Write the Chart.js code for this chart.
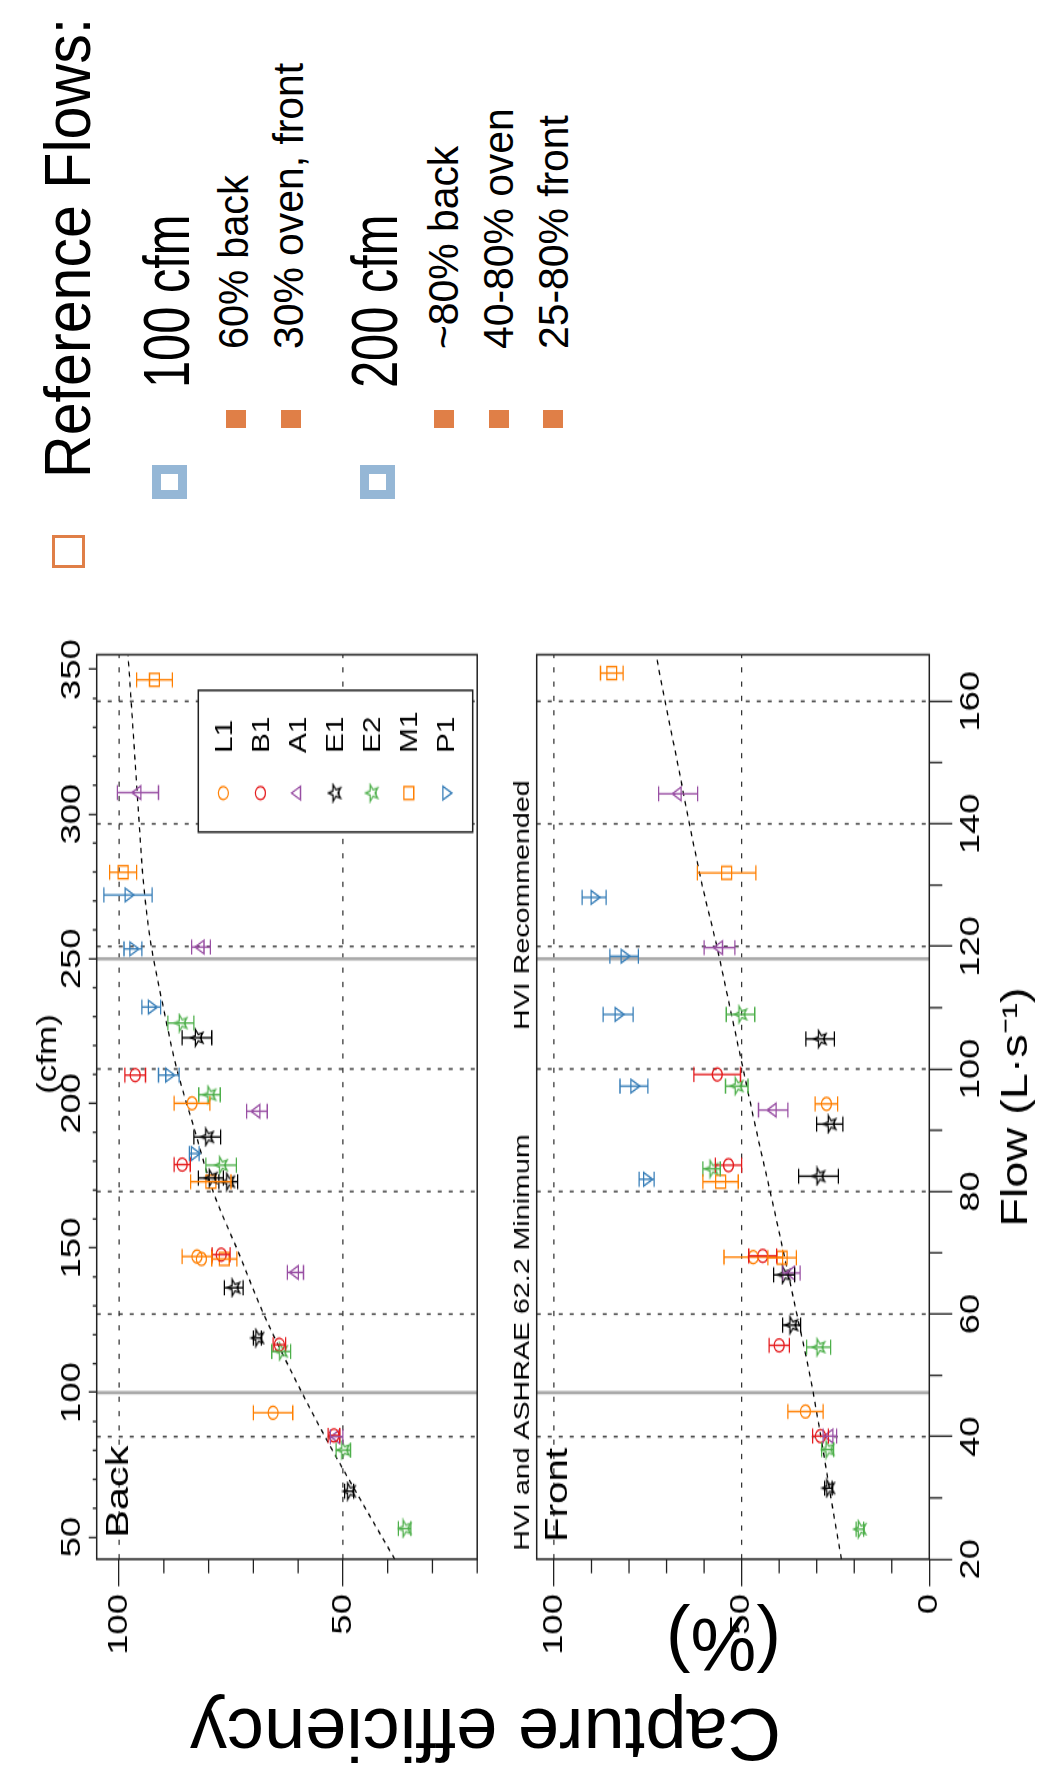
<!DOCTYPE html>
<html>
<head>
<meta charset="utf-8">
<script src="https://cdn.jsdelivr.net/npm/chart.js@4.4.0/dist/chart.umd.min.js"></script>
<style>
  html, body { margin: 0; padding: 0; background: #fff; }
  body { width: 1039px; height: 1766px; overflow: hidden; position: relative; }
  /* the figure is laid out upright, then turned a quarter turn like the original */
  #fig { position: absolute; left: 0; top: 0; width: 1766px; height: 1039px;
         transform-origin: 0 0; transform: translate(0px, 1766px) rotate(-90deg);
         font-family: "Liberation Sans", Arial, sans-serif; color: #000; }
  .panel { position: absolute; left: 0; }
  .panel canvas { display: block; }
  .txt { position: absolute; white-space: nowrap; line-height: 1; transform-origin: 0 0; }
  .small { font-size: 43px; transform: scaleX(0.95); left: 1417px; }
  .big { font-size: 65px; transform: scaleX(0.75); left: 1378px; }
  .sq { position: absolute; box-sizing: border-box; }
  .fill { background: #e07f47; width: 18px; height: 20px; left: 1338px; }
  .blue { width: 34px; height: 35px; border: 9px solid #95b7d6; left: 1267px; }
</style>
</head>
<body>
<div id="fig">
  <div class="panel" style="top:0;width:1130px;height:500px">
    <canvas id="back" width="869" height="500" style="width:1130px;height:500px"></canvas>
  </div>
  <div class="panel" style="top:500px;width:1130px;height:539px">
    <canvas id="front" width="869" height="539" style="width:1130px;height:539px"></canvas>
  </div>

  <div class="txt" style="left:-12.6px;top:781px;font-size:74px;line-height:90px;transform:rotate(-90deg)">Capture efficiency<br>(%)</div>

  <div class="sq" style="left:1198px;top:52px;width:33px;height:33px;border:3.5px solid #e07f47"></div>
  <div class="txt" style="left:1288px;top:35px;font-size:65px;transform:scaleX(0.91)">Reference Flows:</div>

  <div class="sq blue" style="top:152px"></div>
  <div class="txt big" style="top:134px">100 cfm</div>
  <div class="sq fill" style="top:226px"></div>
  <div class="txt small" style="top:211.6px;transform:scaleX(0.92)">60% back</div>
  <div class="sq fill" style="top:281px"></div>
  <div class="txt small" style="top:266.6px">30% oven, front</div>

  <div class="sq blue" style="top:360px"></div>
  <div class="txt big" style="top:342px">200 cfm</div>
  <div class="sq fill" style="top:434px"></div>
  <div class="txt small" style="top:421.6px">~80% back</div>
  <div class="sq fill" style="top:489px"></div>
  <div class="txt small" style="top:476.6px">40-80% oven</div>
  <div class="sq fill" style="top:543px"></div>
  <div class="txt small" style="top:531.6px">25-80% front</div>
</div>

<script>
// values
// flow in L/s, capture efficiency in %

const seriesNames = ['L1', 'B1', 'A1', 'E1', 'E2', 'M1', 'P1'];
const seriesColors = ['#ff7f00', '#e41a1c', '#984ea3', '#000000', '#4daf4a', '#ff7f00', '#377eb8'];

// each row: [flow, capture efficiency, +/- error]
const backL1 = [[69.4, 82.6, 3.3], [69.0, 81.6, 0], [43.9, 65.6, 4.4], [94.4, 83.7, 4.0]];
const backB1 = [[69.7, 77.2, 2.0], [55.0, 64.2, 1.4], [40.2, 52.0, 1.3], [99.0, 96.4, 2.3], [84.4, 85.9, 1.8]];
const backA1 = [[66.8, 60.6, 1.8], [40.0, 51.4, 1.4], [119.9, 81.7, 2.1], [93.1, 69.2, 2.3], [145.1, 95.8, 4.6]];
const backE1 = [[64.3, 74.4, 2.1], [56.1, 69.1, 0.9], [31.1, 48.6, 1.0], [105.1, 82.6, 3.3], [88.9, 80.3, 3.0], [82.2, 79.5, 2.8], [81.6, 75.6, 2.1]];
const backE2 = [[53.9, 63.8, 2.1], [37.8, 49.9, 1.6], [25.0, 36.2, 1.4], [107.5, 86.2, 2.9], [95.8, 79.8, 2.4], [84.3, 77.2, 3.4]];
const backM1 = [[69.0, 76.5, 2.8], [81.6, 79.5, 4.5], [163.5, 92.1, 4.0], [132.1, 99.1, 3.0]];
const backP1 = [[128.4, 98.0, 5.4], [119.6, 96.9, 2.0], [110.1, 92.8, 2.1], [99.0, 88.9, 2.3], [86.2, 83.2, 1.1]];

const frontL1 = [[69.3, 46.9, 7.8], [44.1, 33.0, 4.7], [94.3, 27.4, 3.0]];
const frontB1 = [[69.5, 44.4, 3.7], [54.9, 40.0, 2.7], [40.1, 29.0, 2.1], [99.1, 56.5, 6.2], [84.3, 53.5, 3.5]];
const frontA1 = [[66.7, 36.7, 2.3], [40.1, 26.5, 1.8], [119.8, 55.9, 4.1], [93.3, 41.6, 3.9], [144.9, 66.9, 5.2]];
const frontE1 = [[66.4, 38.7, 2.8], [58.2, 36.7, 2.4], [31.6, 26.9, 1.0], [104.9, 29.1, 3.8], [91.0, 26.5, 3.5], [82.5, 29.5, 5.3]];
const frontE2 = [[54.6, 29.5, 3.2], [37.9, 27.1, 1.6], [24.9, 18.5, 1.0], [108.9, 50.3, 3.8], [97.2, 51.3, 3.0], [83.7, 58.0, 2.3]];
const frontM1 = [[69.2, 39.2, 3.8], [81.6, 55.6, 4.7], [164.6, 84.6, 3.0], [132.0, 54.0, 7.8]];
const frontP1 = [[128.0, 89.3, 3.2], [118.4, 81.3, 3.8], [108.9, 82.9, 4.0], [97.2, 78.7, 3.7], [82.0, 75.3, 2.0]];

// dashed fitted curves
const fitFlow = [20, 30, 40, 50, 60, 70, 80, 90, 100, 110, 120, 130, 140, 150, 160, 167.6];
const backFit = [38.4, 46.3, 54.0, 61.1, 67.7, 73.3, 79.0, 83.1, 87.1, 90.1, 92.8, 94.5, 95.5, 96.4, 97.3, 98.0];
const frontFit = [23.4, 26.2, 28.9, 31.8, 35.3, 38.8, 42.4, 46.1, 49.6, 53.1, 56.6, 60.5, 63.9, 67.1, 70.4, 72.8];

// reference flows: 100 cfm and 250 cfm
const refFlows = [47.19, 117.98];

// axes
const flowRange = [20, 167.6];
const flowTicks = [20, 40, 60, 80, 100, 120, 140, 160];
const flowMinor = [30, 50, 70, 90, 110, 130, 150];
const cfmTicks = [50, 100, 150, 200, 250, 300, 350];
const cfmMinor = [60, 70, 80, 90, 110, 120, 130, 140, 160, 170, 180, 190, 210, 220, 230, 240, 260, 270, 280, 290, 310, 320, 330, 340];
const backEffRange = [20, 105];
const backEffTicks = [50, 100];
const backEffMinor = [20, 30, 40, 60, 70, 80, 90];
const frontEffRange = [0, 104.6];
const frontEffTicks = [0, 50, 100];
const frontEffMinor = [10, 20, 30, 40, 60, 70, 80, 90];
const effGrid = [50, 100];

const LPS_PER_CFM = 0.47195;
const FONT = '"Liberation Sans", Arial, sans-serif';
Chart.defaults.font.family = FONT;
Chart.defaults.color = '#000';

function starImage(color) {
    const c = document.createElement('canvas');
    c.width = 16; c.height = 16;
    const g = c.getContext('2d');
    g.strokeStyle = color;
    g.lineWidth = 1.3;
    g.beginPath();
    for (let i = 0; i < 10; i++) {
        const r = i % 2 ? 2.7 : 6.6;
        const a = -Math.PI / 2 + i * Math.PI / 5;
        const px = 8 + r * Math.cos(a), py = 8.5 + r * Math.sin(a);
        if (i) g.lineTo(px, py); else g.moveTo(px, py);
    }
    g.closePath();
    g.stroke();
    return c;
}

const markerStyle = {
    L1: { pointStyle: 'circle', pointRadius: 5 },
    B1: { pointStyle: 'circle', pointRadius: 5 },
    A1: { pointStyle: 'triangle', pointRadius: 6 },
    E1: { pointStyle: starImage('#000000'), pointRadius: 6 },
    E2: { pointStyle: starImage('#4daf4a'), pointRadius: 6 },
    M1: { pointStyle: 'rect', pointRadius: 7 },
    P1: { pointStyle: 'triangle', pointRadius: 6, pointRotation: 180 }
};

function buildSets(rows, fit) {
    const sets = seriesNames.map((name, i) => Object.assign({
        type: 'scatter',
        label: name,
        xAxisID: 'x',
        yAxisID: 'y',
        data: rows[i].map(r => ({ x: r[0], y: r[1] })),
        errs: rows[i].map(r => r[2]),
        borderColor: seriesColors[i],
        backgroundColor: 'rgba(0,0,0,0)',
        pointBorderWidth: 1.3,
        pointRotation: 0
    }, markerStyle[name]));
    // fit curve last so it sits under the points
    sets.push({
        type: 'line',
        label: 'fit',
        xAxisID: 'x',
        yAxisID: 'y',
        data: fitFlow.map((f, i) => ({ x: f, y: fit[i] })),
        borderColor: '#000',
        borderWidth: 1.3,
        borderDash: [4, 4],
        pointRadius: 0,
        cubicInterpolationMode: 'monotone',
        fill: false
    });
    return sets;
}

// dotted grid + grey reference lines
const gridLines = {
    id: 'gridLines',
    beforeDatasetsDraw(chart) {
        const { ctx, chartArea: a, scales: { x, y } } = chart;
        ctx.save();
        ctx.strokeStyle = '#333';
        ctx.lineWidth = 1.3;
        ctx.setLineDash([4, 7]);
        flowTicks.forEach(f => {
            const px = x.getPixelForValue(f);
            if (px <= a.left + 1) return;
            ctx.beginPath(); ctx.moveTo(px, a.top); ctx.lineTo(px, a.bottom); ctx.stroke();
        });
        effGrid.forEach(v => {
            const py = y.getPixelForValue(v);
            ctx.beginPath(); ctx.moveTo(a.left, py); ctx.lineTo(a.right, py); ctx.stroke();
        });
        ctx.setLineDash([]);
        ctx.strokeStyle = '#a9a9a9';
        ctx.lineWidth = 2.6;
        refFlows.forEach(f => {
            const px = x.getPixelForValue(f);
            ctx.beginPath(); ctx.moveTo(px, a.top); ctx.lineTo(px, a.bottom); ctx.stroke();
        });
        ctx.restore();
    }
};

// vertical error bars on capture efficiency
const errorBars = {
    id: 'errorBars',
    afterDatasetsDraw(chart) {
        const { ctx, scales: { x, y } } = chart;
        ctx.save();
        ctx.lineWidth = 1.3;
        chart.data.datasets.forEach(ds => {
            if (!ds.errs) return;
            ctx.strokeStyle = ds.borderColor;
            ds.data.forEach((p, i) => {
                const e = ds.errs[i];
                if (!e) return;
                const px = x.getPixelForValue(p.x);
                const y1 = y.getPixelForValue(p.y - e), y2 = y.getPixelForValue(p.y + e);
                ctx.beginPath();
                ctx.moveTo(px, y1); ctx.lineTo(px, y2);
                ctx.moveTo(px - 5.8, y1); ctx.lineTo(px + 5.8, y1);
                ctx.moveTo(px - 5.8, y2); ctx.lineTo(px + 5.8, y2);
                ctx.stroke();
            });
        });
        ctx.restore();
    }
};

// frame, minor ticks, panel labels and the small marker legend
const frameAndText = {
    id: 'frameAndText',
    afterDraw(chart, args, o) {
        const { ctx, chartArea: a } = chart;
        ctx.save();
        ctx.strokeStyle = '#222';
        ctx.lineWidth = 1.5;
        ctx.strokeRect(a.left, a.top, a.right - a.left, a.bottom - a.top);

        ctx.lineWidth = 1.3;
        (o.minor || []).forEach(m => {
            const s = chart.scales[m.axis];
            m.values.forEach(v => {
                const p = s.getPixelForValue(v);
                ctx.beginPath();
                if (m.side === 'left') { ctx.moveTo(a.left, p); ctx.lineTo(a.left - m.len, p); }
                if (m.side === 'top') { ctx.moveTo(p, a.top); ctx.lineTo(p, a.top - m.len); }
                if (m.side === 'bottom') { ctx.moveTo(p, a.bottom); ctx.lineTo(p, a.bottom + m.len); }
                ctx.stroke();
            });
        });

        ctx.fillStyle = '#000';
        (o.labels || []).forEach(t => {
            ctx.font = t.size + 'px ' + FONT;
            ctx.textAlign = t.align || 'left';
            ctx.textBaseline = t.baseline || 'alphabetic';
            const tx = t.axis ? chart.scales[t.axis].getPixelForValue(t.at) : t.x;
            ctx.fillText(t.text, tx, t.y);
        });

        const L = o.legend;
        if (L) {
            ctx.fillStyle = '#fff';
            ctx.fillRect(L.left, L.top, L.width, L.height);
            ctx.strokeStyle = '#222';
            ctx.lineWidth = 1.5;
            ctx.strokeRect(L.left, L.top, L.width, L.height);
            ctx.font = '23px ' + FONT;
            ctx.textAlign = 'left';
            ctx.textBaseline = 'alphabetic';
            chart.data.datasets.filter(d => d.type === 'scatter').forEach((d, i) => {
                const yy = L.top + L.firstRow + i * L.rowGap;
                ctx.strokeStyle = d.borderColor;
                ctx.fillStyle = 'rgba(0,0,0,0)';
                ctx.lineWidth = d.pointBorderWidth;
                Chart.helpers.drawPoint(ctx, {
                    pointStyle: d.pointStyle, rotation: d.pointRotation, radius: d.pointRadius, borderWidth: d.pointBorderWidth
                }, L.left + L.markX, yy);
                ctx.fillStyle = '#000';
                ctx.fillText(d.label, L.left + L.textX, yy + 8.3);
            });
        }
        ctx.restore();
    }
};

function fixedTicks(values) {
    return s => { s.ticks = values.map(v => ({ value: v })); };
}

const tickGrid = len => ({ drawOnChartArea: false, drawTicks: true, tickLength: len, color: '#222', lineWidth: 1.3 });

new Chart(document.getElementById('back'), {
    type: 'scatter',
    data: { datasets: buildSets([backL1, backB1, backA1, backE1, backE2, backM1, backP1], backFit) },
    options: {
        responsive: false,
        animation: false,
        layout: { padding: { left: 0, right: 14.4, top: 0, bottom: 7.3 } },
        scales: {
            x: { type: 'linear', display: false, min: flowRange[0], max: flowRange[1] },
            xc: {
                type: 'linear', position: 'top',
                min: flowRange[0] / LPS_PER_CFM, max: flowRange[1] / LPS_PER_CFM,
                afterBuildTicks: fixedTicks(cfmTicks),
                afterFit: s => { s.height = 96.7; },
                grid: tickGrid(8),
                border: { display: false },
                ticks: { autoSkip: false, maxRotation: 0, padding: 0, font: { size: 28 } }
            },
            y: {
                type: 'linear', position: 'left',
                min: backEffRange[0], max: backEffRange[1],
                afterBuildTicks: fixedTicks(backEffTicks),
                afterFit: s => { s.width = 159; },
                grid: tickGrid(20.8),
                border: { display: false },
                ticks: { autoSkip: false, padding: 6, font: { size: 28 } }
            }
        },
        plugins: {
            legend: { display: false },
            tooltip: { enabled: false },
            frameAndText: {
                minor: [
                    { axis: 'y', side: 'left', values: backEffMinor, len: 10.8 },
                    { axis: 'xc', side: 'top', values: cfmMinor, len: 4 }
                ],
                labels: [
                    { text: 'Back', x: 175.4, y: 128, size: 32 },
                    { text: '(cfm)', axis: 'xc', at: 217, y: 49, size: 27, align: 'center', baseline: 'middle' }
                ],
                legend: { left: 718.2, top: 198.3, width: 109, height: 274.4, markX: 30, textX: 60.8, firstRow: 25, rowGap: 37.1 }
            }
        }
    },
    plugins: [gridLines, errorBars, frameAndText]
});

new Chart(document.getElementById('front'), {
    type: 'scatter',
    data: { datasets: buildSets([frontL1, frontB1, frontA1, frontE1, frontE2, frontM1, frontP1], frontFit) },
    options: {
        responsive: false,
        animation: false,
        layout: { padding: { left: 0, right: 14.4, top: 36.7, bottom: 0 } },
        scales: {
            x: {
                type: 'linear', position: 'bottom',
                min: flowRange[0], max: flowRange[1],
                afterBuildTicks: fixedTicks(flowTicks),
                afterFit: s => { s.height = 109.7; },
                grid: tickGrid(23),
                border: { display: false },
                ticks: { autoSkip: false, maxRotation: 0, padding: 2, font: { size: 28 } },
                title: { display: true, text: 'Flow (L·s⁻¹)', font: { size: 36 }, padding: { top: 0, bottom: 0 } }
            },
            y: {
                type: 'linear', position: 'left',
                min: frontEffRange[0], max: frontEffRange[1],
                afterBuildTicks: fixedTicks(frontEffTicks),
                afterFit: s => { s.width = 159; },
                grid: tickGrid(20.8),
                border: { display: false },
                ticks: { autoSkip: false, padding: 6, font: { size: 28 } }
            }
        },
        plugins: {
            legend: { display: false },
            tooltip: { enabled: false },
            frameAndText: {
                minor: [
                    { axis: 'y', side: 'left', values: frontEffMinor, len: 10.8 },
                    { axis: 'x', side: 'bottom', values: flowMinor, len: 13 }
                ],
                labels: [
                    { text: 'Front', x: 172.3, y: 67, size: 31 },
                    { text: 'HVI and ASHRAE 62.2 Minimum', x: 165.4, y: 29, size: 22 },
                    { text: 'HVI Recommended', x: 566, y: 29, size: 22 }
                ]
            }
        }
    },
    plugins: [gridLines, errorBars, frameAndText]
});
</script>
</body>
</html>
